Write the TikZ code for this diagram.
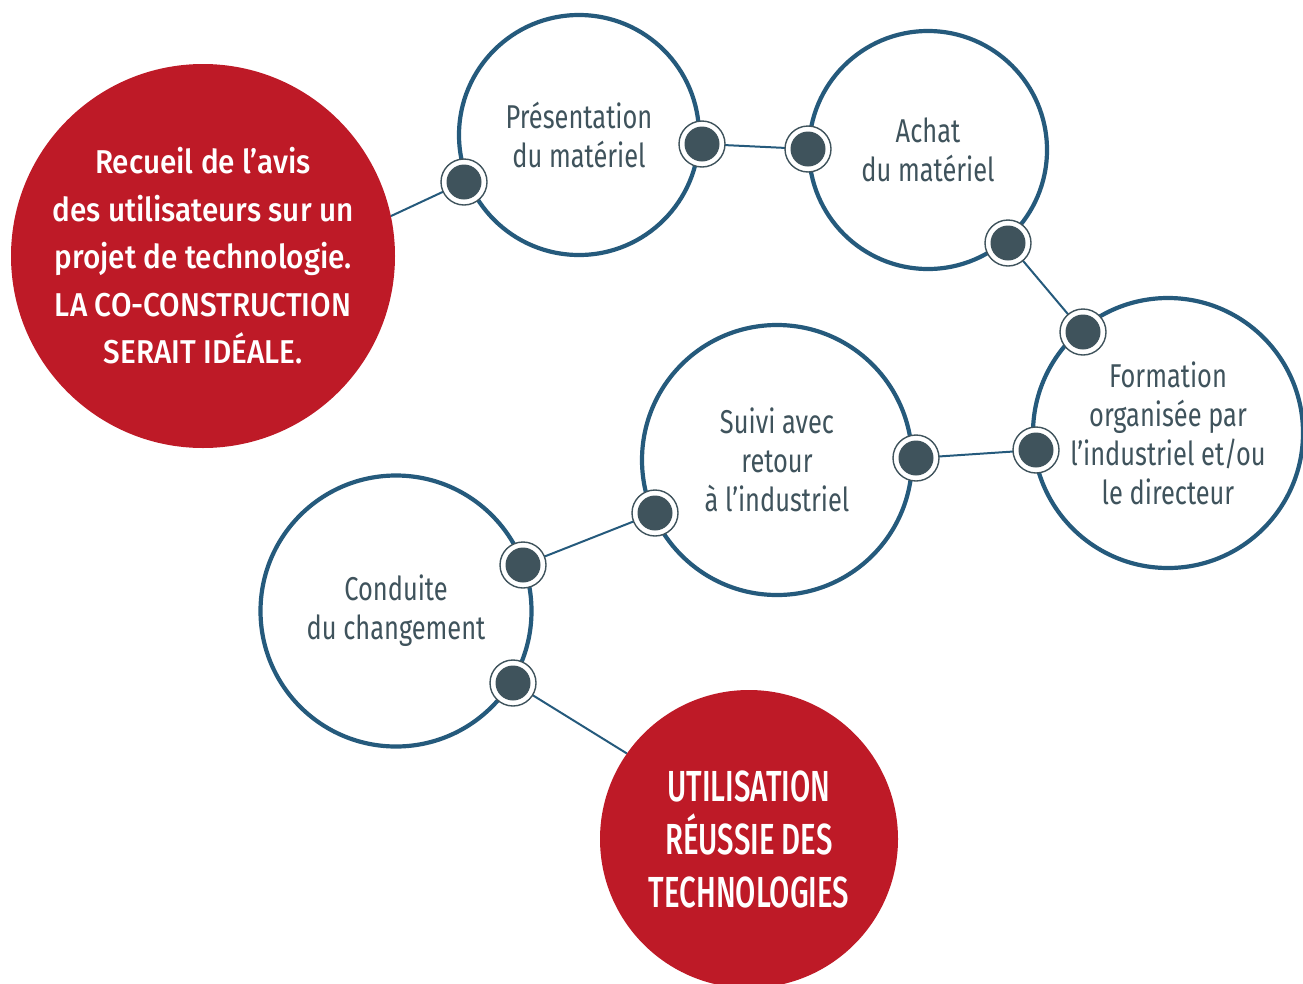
\documentclass[tikz,border=0pt]{standalone}
\usepackage{fontspec}
\newfontfamily\graytext[FakeStretch=0.77]{Fira Sans}
\newfontfamily\redtext[FakeStretch=0.9]{Fira Sans Medium}
\newfontfamily\bigredtext[FakeStretch=0.675]{Fira Sans Medium}
\definecolor{redfill}{HTML}{BE1A27}
\definecolor{ringblue}{HTML}{255A7C}
\definecolor{textgray}{HTML}{3F535C}
\begin{document}
\begin{tikzpicture}[x=1pt,y=-1pt,
  stepcircle/.style={circle, draw=ringblue, line width=4.2pt, fill=white, inner sep=0pt,
     align=center, text=textgray, font=\graytext\fontsize{33}{39}\selectfont},
  redcircle/.style={circle, fill=redfill, inner sep=0pt, align=center, text=white},
  link/.style={draw=ringblue, line width=2pt},
  joint/.style={circle, minimum size=46pt, inner sep=0pt, draw=textgray, line width=1.4pt, fill=white,
     path picture={\fill[textgray] (path picture bounding box.center) circle[radius=17.5pt];}}]
\useasboundingbox (0,0) rectangle (1303,983);

% big circles
\node[redcircle, minimum size=384pt, font=\redtext\fontsize{33}{47.5}\selectfont] (recueil) at (203,256)
  {Recueil de l’avis\\des utilisateurs sur un\\projet de technologie.\\LA CO-CONSTRUCTION\\SERAIT IDÉALE.};
\node[redcircle, minimum size=298pt, font=\bigredtext\fontsize{43.5}{53}\selectfont] (utilisation) at (749,839)
  {UTILISATION\\RÉUSSIE DES\\TECHNOLOGIES};

% joints (coordinates first for links)
\coordinate (p1) at (464,182);
\coordinate (p2) at (702,144);
\coordinate (p3) at (808,149);
\coordinate (p4) at (1008,243);
\coordinate (p5) at (1083,332);
\coordinate (p6) at (1036,450);
\coordinate (p7) at (916,458);
\coordinate (p8) at (655,513);
\coordinate (p9) at (523,565);
\coordinate (p10) at (513,683);

% links
\draw[link] (recueil.12) -- (p1);
\draw[link] (p2) -- (p3);
\draw[link] (p4) -- (p5);
\draw[link] (p6) -- (p7);
\draw[link] (p8) -- (p9);
\draw[link] (p10) -- (utilisation.145);

% step circles
\node[stepcircle, minimum size=240pt] (presentation) at (579,135) {Présentation\\du matériel};
\node[stepcircle, minimum size=238pt] (achat) at (928,150) {Achat\\du matériel};
\node[stepcircle, minimum size=270pt] (formation) at (1168,433) {Formation\\organisée par\\l’industriel et/ou\\le directeur};
\node[stepcircle, minimum size=270pt] (suivi) at (777,460) {Suivi avec\\retour\\à l’industriel};
\node[stepcircle, minimum size=271pt] (conduite) at (396,611) {Conduite\\du changement};

% joints
\foreach \i in {1,...,10} { \node[joint] (j\i) at (p\i) {}; }
\end{tikzpicture}
\end{document}
